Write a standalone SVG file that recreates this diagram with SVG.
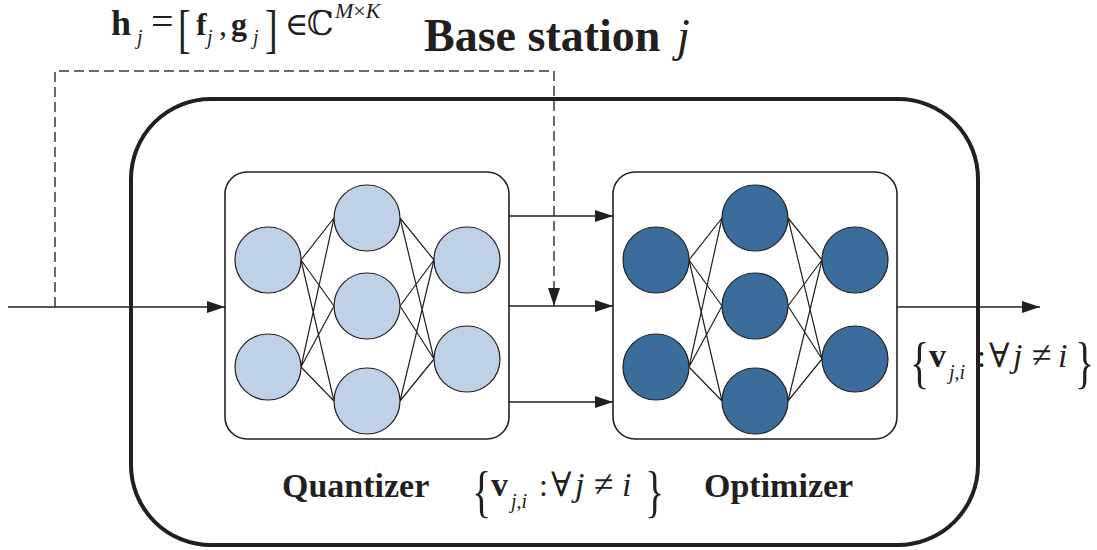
<svg xmlns="http://www.w3.org/2000/svg" width="1097" height="550" viewBox="0 0 1097 550">
<style>
.t{font-family:"Liberation Serif","DejaVu Serif",serif;fill:#231f20}
.b{font-weight:bold}
.i{font-style:italic}
.ln{stroke:#231f20;stroke-width:1.2;fill:none}
.box{fill:#fff;stroke:#231f20;stroke-width:1.6}
.lt{fill:#bfd1e7;stroke:#231f20;stroke-width:1.2}
.dk{fill:#3b6d9c;stroke:#231f20;stroke-width:1.2}
.ar{stroke:#231f20;stroke-width:1.6;fill:none}
</style>
<defs>
<marker id="ah" markerUnits="userSpaceOnUse" markerWidth="20" markerHeight="14" refX="18" refY="6" orient="auto">
<path d="M0,0 L18,6 L0,12 Z" fill="#231f20"/>
</marker>
</defs>

<g id="base-station">
<rect x="131" y="99" width="847" height="446" rx="80" ry="80" fill="none" stroke="#231f20" stroke-width="4"/>
<text class="t b" x="424" y="51" font-size="46">Base station</text>
<text class="t i" x="677" y="51" font-size="46">j</text>
</g>

<g id="channel-label" class="t">
<text class="b" x="111" y="35" font-size="36">h</text>
<text class="i" x="137" y="44" font-size="20">j</text>
<text x="151" y="35" font-size="40">=</text>
<text transform="translate(178,47) scale(1,1.38)" font-size="38">[</text>
<text class="b" x="196" y="35" font-size="32">f</text>
<text class="i" x="207" y="44" font-size="20">j</text>
<text x="219" y="35" font-size="32">,</text>
<text class="b" x="231" y="35" font-size="32">g</text>
<text class="i" x="253" y="44" font-size="20">j</text>
<text transform="translate(265,47) scale(1,1.38)" font-size="38">]</text>
<text x="285" y="35" font-size="32">∈</text>
<text x="307" y="35" font-size="34">ℂ</text>
<text x="335" y="18" font-size="22"><tspan class="i">M</tspan>×<tspan class="i">K</tspan></text>
</g>

<g id="quantizer">
<rect class="box" x="225" y="172" width="284" height="267" rx="22" ry="22"/>
<g class="ln">
<path d="M301,260 L334,218 M301,260 L334,306 M301,260 L334,401 M301,367 L334,218 M301,367 L334,306 M301,367 L334,401"/>
<path d="M400,218 L434,260 M400,218 L434,359 M400,306 L434,260 M400,306 L434,359 M400,401 L434,260 M400,401 L434,359"/>
</g>
<circle class="lt" cx="268" cy="260" r="33"/>
<circle class="lt" cx="268" cy="367" r="33"/>
<circle class="lt" cx="367" cy="218" r="33"/>
<circle class="lt" cx="367" cy="306" r="33"/>
<circle class="lt" cx="367" cy="401" r="33"/>
<circle class="lt" cx="467" cy="260" r="33"/>
<circle class="lt" cx="467" cy="359" r="33"/>
<text class="t b" x="282" y="497" font-size="34">Quantizer</text>
</g>

<g id="optimizer">
<rect class="box" x="613" y="172" width="284" height="267" rx="22" ry="22"/>
<g class="ln">
<path d="M689,260 L722,218 M689,260 L722,306 M689,260 L722,401 M689,367 L722,218 M689,367 L722,306 M689,367 L722,401"/>
<path d="M788,218 L822,260 M788,218 L822,359 M788,306 L822,260 M788,306 L822,359 M788,401 L822,260 M788,401 L822,359"/>
</g>
<circle class="dk" cx="656" cy="260" r="33"/>
<circle class="dk" cx="656" cy="367" r="33"/>
<circle class="dk" cx="755" cy="218" r="33"/>
<circle class="dk" cx="755" cy="306" r="33"/>
<circle class="dk" cx="755" cy="401" r="33"/>
<circle class="dk" cx="855" cy="260" r="33"/>
<circle class="dk" cx="855" cy="359" r="33"/>
<text class="t b" x="704" y="497" font-size="34">Optimizer</text>
</g>

<g id="connectors">
<line class="ar" x1="8" y1="307" x2="225" y2="307" marker-end="url(#ah)"/>
<polyline points="55,307 55,71 554,71 554,306" fill="none" stroke="#3a3a3a" stroke-width="1.5" stroke-dasharray="10,5" marker-end="url(#ah)"/>
<line class="ar" x1="509" y1="216" x2="613" y2="216" marker-end="url(#ah)"/>
<line class="ar" x1="509" y1="306" x2="613" y2="306" marker-end="url(#ah)"/>
<line class="ar" x1="509" y1="402" x2="613" y2="402" marker-end="url(#ah)"/>
<line class="ar" x1="897" y1="307" x2="1040" y2="307" marker-end="url(#ah)"/>
</g>

<g id="label-bottom" class="t">
<text transform="translate(472,511) scale(1,1.45)" font-size="40">{</text>
<text class="b" x="491" y="496" font-size="34">v</text>
<text class="i" x="511" y="508" font-size="20">j,i</text>
<text x="539" y="496" font-size="32">:</text>
<text x="551" y="496" font-size="34">∀</text>
<text class="i" x="575" y="496" font-size="34">j</text>
<text x="594" y="496" font-size="36">≠</text>
<text class="i" x="622" y="496" font-size="34">i</text>
<text transform="translate(645,511) scale(1,1.45)" font-size="40">}</text>
</g>

<g id="label-right" class="t" transform="translate(438,-129)">
<text transform="translate(472,511) scale(1,1.45)" font-size="40">{</text>
<text class="b" x="491" y="496" font-size="34">v</text>
<text class="i" x="511" y="508" font-size="20">j,i</text>
<text x="539" y="496" font-size="32">:</text>
<text x="551" y="496" font-size="34">∀</text>
<text class="i" x="575" y="496" font-size="34">j</text>
<text x="594" y="496" font-size="36">≠</text>
<text class="i" x="620" y="496" font-size="34">i</text>
<text transform="translate(637,511) scale(1,1.45)" font-size="40">}</text>
</g>
</svg>
